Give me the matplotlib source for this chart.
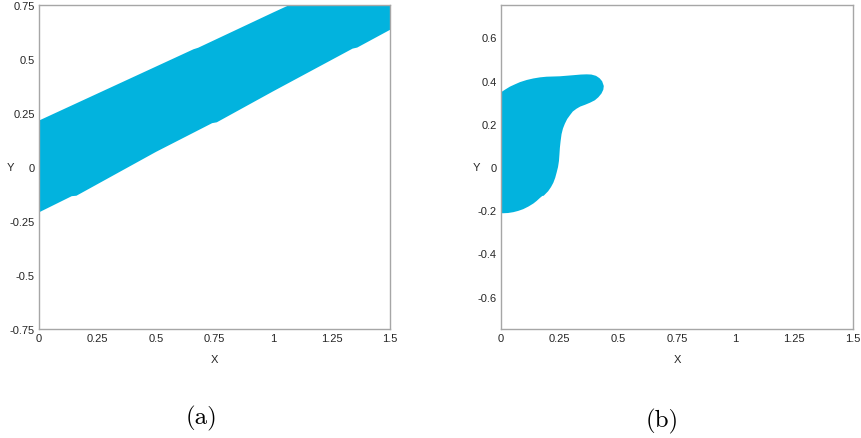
import matplotlib
matplotlib.use("Agg")
import matplotlib.pyplot as plt

# ---- data ----
band_upper_x = [0.0, 0.25, 0.5, 0.66, 0.68, 1.0, 1.08, 1.5]
band_upper_y = [0.215, 0.34, 0.465, 0.545, 0.552, 0.715, 0.755, 0.965]
band_lower_x = [0.0, 0.14, 0.16, 0.5, 0.74, 0.76, 1.0, 1.34, 1.36, 1.5]
band_lower_y = [-0.21, -0.135, -0.133, 0.07, 0.203, 0.207, 0.35, 0.548, 0.553, 0.635]

blob_x = [0.0, 0.020, 0.038, 0.060, 0.081, 0.110, 0.138, 0.166, 0.194, 0.251,
          0.308, 0.340, 0.365, 0.385, 0.405, 0.420, 0.431, 0.438, 0.436, 0.428,
          0.415, 0.400, 0.380, 0.358, 0.338, 0.322, 0.306, 0.294, 0.282, 0.272,
          0.264, 0.258, 0.254, 0.251, 0.249, 0.247, 0.243, 0.237, 0.231, 0.223,
          0.213, 0.201, 0.182, 0.176, 0.166, 0.152, 0.138, 0.117, 0.095, 0.074,
          0.053, 0.030, 0.010, 0.0]
blob_y = [0.346, 0.360, 0.372, 0.383, 0.393, 0.403, 0.410, 0.415, 0.418, 0.420,
          0.425, 0.428, 0.429, 0.428, 0.422, 0.411, 0.397, 0.375, 0.358, 0.340,
          0.323, 0.309, 0.298, 0.288, 0.280, 0.270, 0.257, 0.240, 0.222, 0.200,
          0.178, 0.152, 0.120, 0.090, 0.058, 0.028, 0.000, -0.026, -0.050, -0.073,
          -0.093, -0.112, -0.133, -0.134, -0.143, -0.157, -0.169, -0.183, -0.195, -0.203,
          -0.209, -0.213, -0.214, -0.214]

xticks = [0, 0.25, 0.5, 0.75, 1, 1.25, 1.5]
xticklabels = ['0', '0.25', '0.5', '0.75', '1', '1.25', '1.5']
yticks_a = [-0.75, -0.5, -0.25, 0, 0.25, 0.5, 0.75]
yticklabels_a = ['-0.75', '-0.5', '-0.25', '0', '0.25', '0.5', '0.75']
yticks_b = [-0.6, -0.4, -0.2, 0, 0.2, 0.4, 0.6]
yticklabels_b = ['-0.6', '-0.4', '-0.2', '0', '0.2', '0.4', '0.6']
captions = ['(a)', '(b)']

fill_color = '#02b3de'
spine_color = '#a6a6a6'
text_color = '#262626'

fig = plt.figure(figsize=(8.61, 4.39), dpi=100)
W, H = 861, 439

def make_axes(left_px, right_px, top_px=6, bottom_px=330):
    return fig.add_axes([left_px / W, (H - bottom_px) / H,
                         (right_px - left_px) / W, (bottom_px - top_px) / H])

ax_a = make_axes(39, 390)
ax_b = make_axes(501, 853)

for ax, yt, ytl, ylab_x in [(ax_a, yticks_a, yticklabels_a, -0.08),
                            (ax_b, yticks_b, yticklabels_b, -0.071)]:
    ax.set_xlim(0, 1.5)
    ax.set_ylim(-0.75, 0.75)
    ax.set_xticks(xticks)
    ax.set_xticklabels(xticklabels)
    ax.set_yticks(yt)
    ax.set_yticklabels(ytl)
    ax.tick_params(length=0, pad=3, labelsize=8, labelcolor=text_color)
    for lab in ax.get_xticklabels() + ax.get_yticklabels():
        lab.set_family('Liberation Sans')
    for sp in ax.spines.values():
        sp.set_color(spine_color)
        sp.set_linewidth(1.0)
    ax.set_xlabel('X', fontsize=8, color=text_color, family='Liberation Sans')
    ax.set_ylabel('Y', fontsize=8, color=text_color, family='Liberation Sans',
                  rotation=0, va='center', ha='center')
    ax.xaxis.set_label_coords(0.5, -0.077)
    ax.yaxis.set_label_coords(ylab_x, 0.5)

band_x = band_upper_x + band_lower_x[::-1]
band_y = band_upper_y + band_lower_y[::-1]
ax_a.fill(band_x, band_y, color=fill_color, linewidth=0)
ax_b.fill(blob_x, blob_y, color=fill_color, linewidth=0)

fig.text(201 / W, 1 - 418 / H, captions[0], family='cmr10', fontsize=18,
         ha='center', va='center', color='black')
fig.text(662 / W, 1 - 421 / H, captions[1], family='cmr10', fontsize=18,
         ha='center', va='center', color='black')

fig.savefig('out.png', dpi=100)
